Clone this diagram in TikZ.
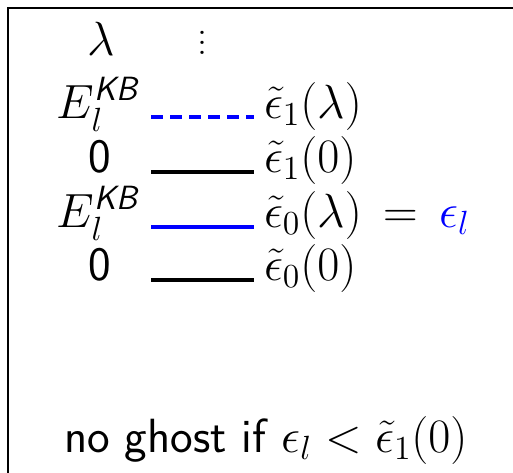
\RequirePackage{fix-cm}
\documentclass[tikz,border=0pt]{standalone}
\usepackage{amsmath}
\begin{document}
\begin{tikzpicture}[x=0.5pt,y=-0.5pt,
  every node/.style={inner sep=0pt,outer sep=0pt,font=\fontsize{24}{28}\selectfont},
  lbl/.style={anchor=base},
  rlbl/.style={anchor=base west},
  elbl/.style={anchor=base east},
  level/.style={line width=2.4pt},
  dashlevel/.style={line width=2pt,dash pattern=on 6pt off 3.5pt}]
\useasboundingbox (0,0) rectangle (513,472);
\clip (0,0) rectangle (513,472);
\coordinate (c1) at (560,8); \coordinate (c2) at (8,8); \coordinate (c3) at (8,520);
\draw[line width=1pt] (c1) -- (c2) -- (c3);
\node[lbl] (lam) at (101,55) {$\lambda$};
\node (dots) at (202,43) {\fontsize{20}{5}\selectfont$\vcenter{\baselineskip=5pt\lineskiplimit=0pt\hbox{.}\hbox{.}\hbox{.}}$};
% level 1
\node[elbl] (E1) at (140,118) {$E_l^{\textsf{\textit{KB}}}$};
\coordinate (a1) at (151,117); \coordinate (b1) at (254,117);
\draw[dashlevel,blue] (a1) -- (b1);
\node[rlbl] (t1) at (264,118) {$\tilde\epsilon_1(\lambda)$};
% level 2
\node[lbl] (z1) at (100,172) {\sffamily 0};
\coordinate (a2) at (151,172); \coordinate (b2) at (254,172);
\draw[level,black] (a2) -- (b2);
\node[rlbl] (t2) at (264,172) {$\tilde\epsilon_1(0)$};
% level 3
\node[elbl] (E2) at (140,227) {$E_l^{\textsf{\textit{KB}}}$};
\coordinate (a3) at (151,227); \coordinate (b3) at (254,227);
\draw[level,blue] (a3) -- (b3);
\node[rlbl] (t3) at (264,227) {$\tilde\epsilon_0(\lambda)\mkern3mu = \mkern3mu{\color{blue}\epsilon_l}$};
% level 4
\node[lbl] (z2) at (100,280) {\sffamily 0};
\coordinate (a4) at (151,280); \coordinate (b4) at (254,280);
\draw[level,black] (a4) -- (b4);
\node[rlbl] (t4) at (264,280) {$\tilde\epsilon_0(0)$};
% note
\node[rlbl] (note) at (64,452) {\sffamily no ghost if $\epsilon_l < \tilde\epsilon_1(0)$};
\end{tikzpicture}
\end{document}
